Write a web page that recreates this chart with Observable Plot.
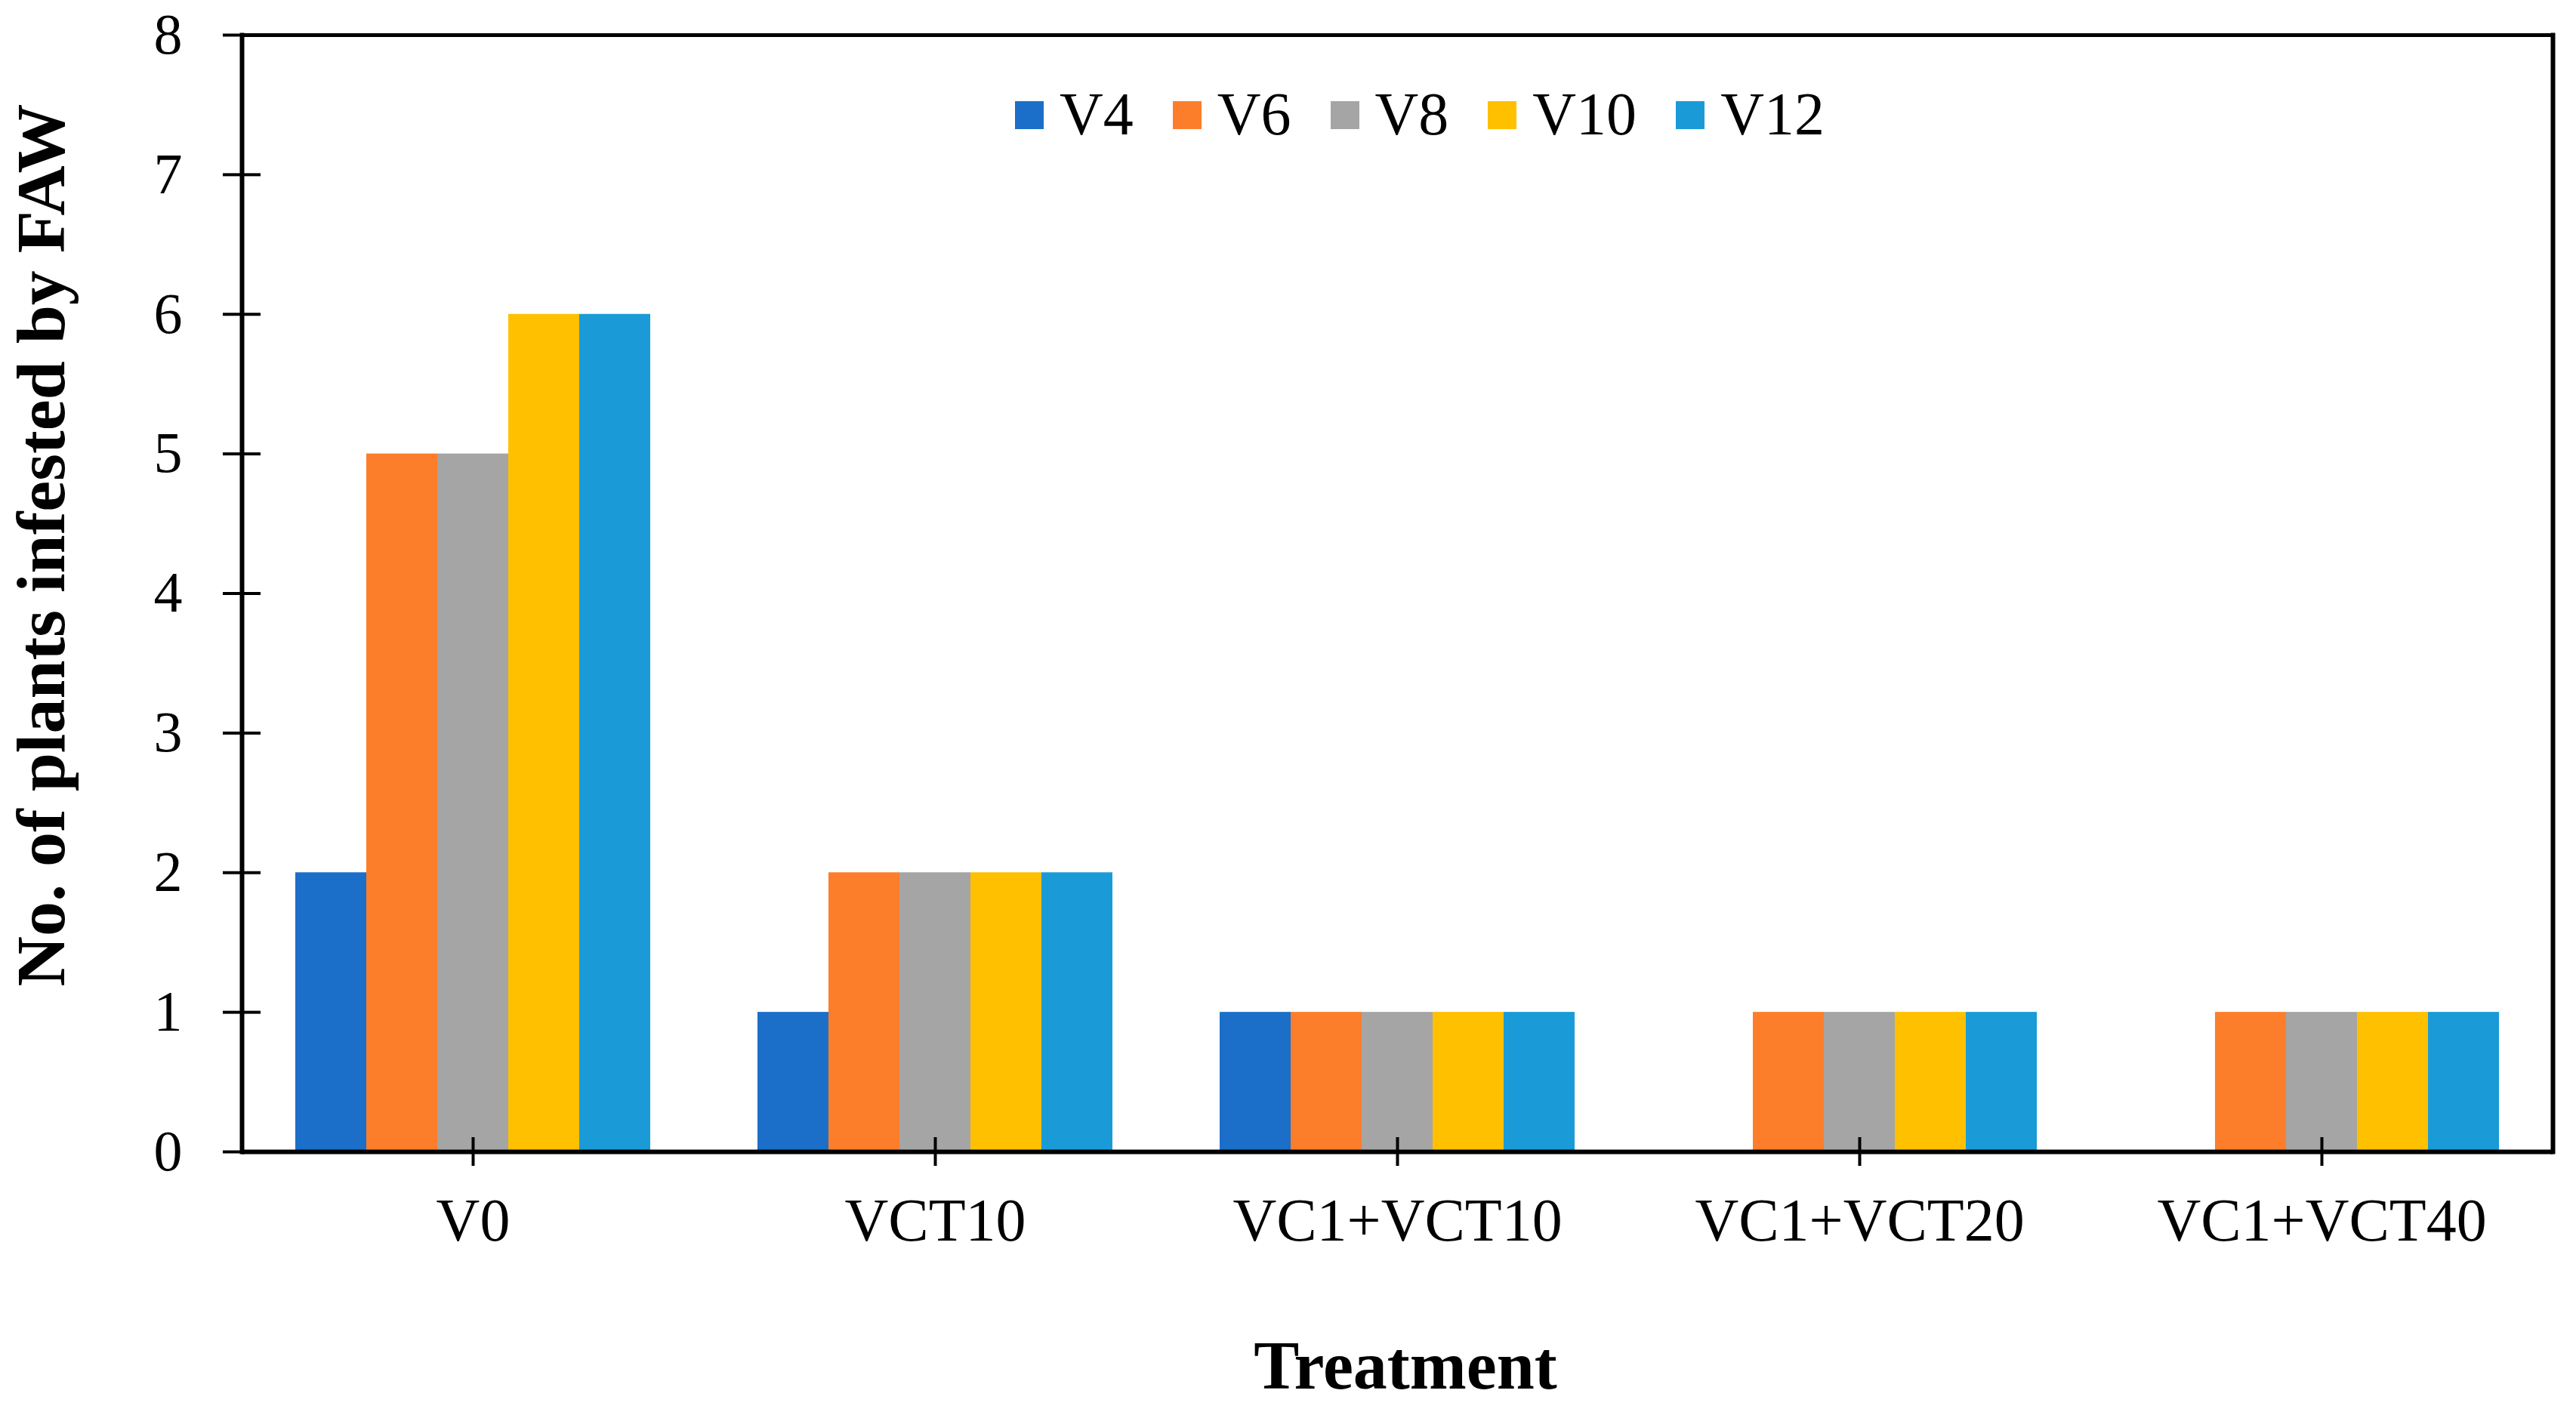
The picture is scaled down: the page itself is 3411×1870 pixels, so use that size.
<!DOCTYPE html>
<html>
<head>
<meta charset="utf-8">
<script src="https://cdn.jsdelivr.net/npm/d3@7"></script>
<script src="https://cdn.jsdelivr.net/npm/@observablehq/plot@0.6"></script>
<style>
  html, body { margin: 0; padding: 0; background: #fff; }
  #wrap { position: relative; width: 3411px; height: 1870px; font-family: "Liberation Serif", "Times New Roman", serif; color: #000; }
  #chart { position: absolute; left: 0; top: 0; }
  .ytitle { position: absolute; left: 54px; top: 722px; font-size: 92px; font-weight: bold; line-height: 1; white-space: nowrap; transform: translate(-50%, -50%) rotate(-90deg); }
  .xtitle { position: absolute; left: 1861px; top: 1764px; font-size: 90px; font-weight: bold; line-height: 1; white-space: nowrap; transform: translateX(-50%); }
  .legend { position: absolute; left: 1344px; top: 111px; display: flex; align-items: flex-start; font-size: 80px; line-height: 1; }
  .legend .item { display: flex; align-items: flex-start; margin-right: 52px; }
  .legend .sw { width: 38px; height: 37px; margin-top: 23px; margin-right: 21px; }
</style>
</head>
<body>
<div id="wrap">
  <div id="chart"></div>
  <div class="ytitle">No. of plants infested by FAW</div>
  <div class="xtitle">Treatment</div>
  <div class="legend" id="legend"></div>
</div>
<script>
// Categories
const treatments = ["V0", "VCT10", "VC1+VCT10", "VC1+VCT20", "VC1+VCT40"];
const stages = ["V4", "V6", "V8", "V10", "V12"];
// Series values (one per treatment)
const V4 = [2, 1, 1, 0, 0];
const V6 = [5, 2, 1, 1, 1];
const V8 = [5, 2, 1, 1, 1];
const V10 = [6, 2, 1, 1, 1];
const V12 = [6, 2, 1, 1, 1];
const stageColors = ["#1B6FC8", "#FD7E2A", "#A5A5A5", "#FFC000", "#1A9BD7"];
const yTicks = [0, 1, 2, 3, 4, 5, 6, 7, 8];

const seriesValues = [V4, V6, V8, V10, V12];
const data = [];
treatments.forEach((t, i) => {
  stages.forEach((s, j) => {
    data.push({treatment: t, stage: s, value: seriesValues[j][i]});
  });
});

const chart = Plot.plot({
  width: 3411,
  height: 1870,
  marginLeft: 319,
  marginRight: 30,
  marginTop: 46,
  marginBottom: 345,
  style: {fontFamily: "Liberation Serif, Times New Roman, serif", fontSize: "80px", color: "#000", background: "#fff"},
  fx: {domain: treatments, padding: 0, label: null},
  x: {domain: stages, paddingInner: 0, paddingOuter: 0.74, axis: null},
  y: {domain: [0, 8], label: null},
  color: {domain: stages, range: stageColors},
  marks: [
    Plot.barY(data, {fx: "treatment", x: "stage", y: "value", fill: "stage"}),
    Plot.ruleY([0], {stroke: "#000", strokeWidth: 6}),
    Plot.ruleY([8], {stroke: "#000", strokeWidth: 5}),
    Plot.frame({anchor: "left", facetAnchor: "left", stroke: "#000", strokeWidth: 6}),
    Plot.frame({anchor: "right", facetAnchor: "right", stroke: "#000", strokeWidth: 6}),
    Plot.axisY({ticks: yTicks, tickSize: 25, tickPadding: 54, strokeWidth: 4, fontSize: 76, label: null, tickFormat: d => String(d)}),
    Plot.axisY({ticks: yTicks, tickSize: -25, strokeWidth: 4, label: null, tickFormat: () => ""}),
    Plot.axisFx({anchor: "bottom", tickSize: 19, tickPadding: 42, strokeWidth: 4, fontSize: 80, label: null}),
    Plot.axisFx({anchor: "bottom", tickSize: -19, strokeWidth: 4, label: null, tickFormat: () => ""})
  ]
});
document.getElementById("chart").appendChild(chart);

const legend = document.getElementById("legend");
stages.forEach((s, i) => {
  const item = document.createElement("div");
  item.className = "item";
  const sw = document.createElement("div");
  sw.className = "sw";
  sw.style.background = stageColors[i];
  const label = document.createElement("span");
  label.textContent = s;
  item.appendChild(sw);
  item.appendChild(label);
  legend.appendChild(item);
});
</script>
</body>
</html>
